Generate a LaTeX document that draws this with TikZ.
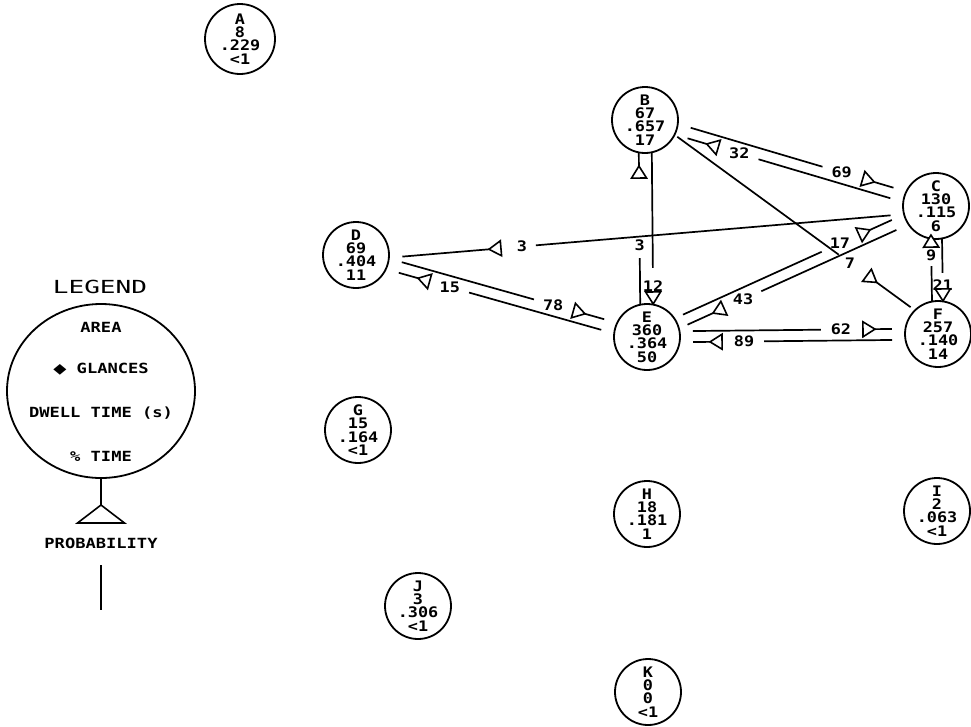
\documentclass[tikz,border=0pt]{standalone}
\usepackage{fontspec}
\setmainfont{DejaVu Sans Mono}
\newfontfamily\plotfont{DejaVu Sans Mono}[FakeStretch=1.16]
\newfontfamily\symf{DejaVu Sans}
\usetikzlibrary{calc,shapes.geometric}
\newcommand\flow[9]{%
 \coordinate (fs) at ($(#1.center)!#3pt!90:(#2.center)$);
 \coordinate (fe) at ($(#2.center)!#3pt!-90:(#1.center)$);
 \draw[conn] ($(fs)!#4pt!(fe)$) -- ($(fe)!#5pt!(fs)$);
 \node[lab] at ($(fe)!#6pt!(fs)$) {#7};
 \coordinate (fa) at ($(fe)!#8pt!(fs)$);
 \coordinate (fm) at ($(fe)!#8pt+12pt!(fs)$);
 \draw[tri] (fa) -- ($(fm)!7.5pt!90:(fa)$) -- ($(fm)!7.5pt!-90:(fa)$) -- cycle;
 \draw[conn] (fa) -- ($(fe)!#9pt!(fs)$);
}
\begin{document}
\begin{tikzpicture}[x=1pt,y=-1pt,
  area/.style={circle,draw,line width=1.8pt,minimum size=66pt,inner sep=0pt,align=center,
    font=\plotfont\bfseries\fontsize{14.5}{13.3}\selectfont},
  conn/.style={line width=1.7pt},
  lab/.style={font=\plotfont\bfseries\fontsize{14.5}{14}\selectfont,inner sep=0pt},
  tri/.style={line width=1.6pt,fill=white,line join=miter},
  ltext/.style={font=\bfseries\fontsize{14}{14}\selectfont,inner sep=0pt},
  ltitle/.style={font=\fontsize{18}{18}\selectfont,inner sep=0pt}]
\useasboundingbox (0,0) rectangle (971,726);

% areas
\node[area,minimum size=70pt] (A) at (240,39) {A\\8\\.229\\<1};
\node[area] (B) at (645,120) {B\\67\\.657\\17};
\node[area] (C) at (936,206) {C\\130\\.115\\6};
\node[area] (D) at (356,255) {D\\69\\.404\\11};
\node[area] (E) at (647,337) {E\\360\\.364\\50};
\node[area] (F) at (938,334) {F\\257\\.140\\14};
\node[area] (G) at (358,430) {G\\15\\.164\\<1};
\node[area] (H) at (647,514) {H\\18\\.181\\1};
\node[area] (I) at (937,511) {I\\2\\.063\\<1};
\node[area] (J) at (418,606) {J\\3\\.306\\<1};
\node[area] (K) at (648,692) {K\\0\\0\\<1};

% transitions: from, to, offset, start, line end, label pos, label, apex, end
\flow{B}{C}{5.5}{46}{120}{100}{69}{66}{46}
\flow{C}{B}{5.5}{46}{120}{100}{32}{66}{46}
\flow{D}{E}{5.5}{46}{119}{99}{78}{66}{46}
\flow{E}{D}{5.5}{46}{119}{99}{15}{66}{46}
\flow{E}{F}{5.5}{46}{117}{97}{62}{63}{46}
\flow{F}{E}{5.5}{46}{117}{97}{89}{63}{46}
\flow{E}{C}{5.5}{42}{123}{103}{17}{70}{46}
\flow{C}{E}{5.5}{46}{123}{103}{43}{70}{42}
\flow{C}{D}{5.5}{46}{180}{166}{3}{133}{46}
\flow{B}{F}{5.5}{36}{127}{113}{7}{80}{38}
\flow{E}{B}{6.5}{32}{138}{125}{3}{46}{32}
\flow{B}{E}{6.5}{32}{69}{51}{12}{33}{33}
\flow{F}{C}{5.5}{32}{60}{49}{9}{29}{29}
\flow{C}{F}{5.5}{32}{61}{49}{21}{33}{33}

% legend
\node[ltitle] (ltit) at (100,287) {\scalebox{1.45}[1]{LEGEND}};
\node[draw,ellipse,line width=1.8pt,minimum width=188pt,minimum height=174pt] (leg) at (101,391) {};
\node[ltext] (larea) at (101,327) {\scalebox{1.22}[1]{AREA}};
\node[ltext] (lgl) at (101,369) {\scalebox{1.22}[1]{{\symf ◆} GLANCES}};
\node[ltext] (ldw) at (101,413) {\scalebox{1.22}[1]{DWELL TIME (s)}};
\node[ltext] (lpt) at (101,456) {\scalebox{1.22}[1]{\% TIME}};
\node[ltext] (lprob) at (101,543) {\scalebox{1.22}[1]{PROBABILITY}};
\coordinate (lapex) at (101,505);
\draw[conn] (leg.south) -- (lapex);
\draw[tri] (lapex) -- ++(-23.5,18) -- ++(47,0) -- cycle;
\coordinate (ltop) at (101,565);
\coordinate (lbot) at (101,610);
\draw[conn] (ltop) -- (lbot);
\end{tikzpicture}
\end{document}
